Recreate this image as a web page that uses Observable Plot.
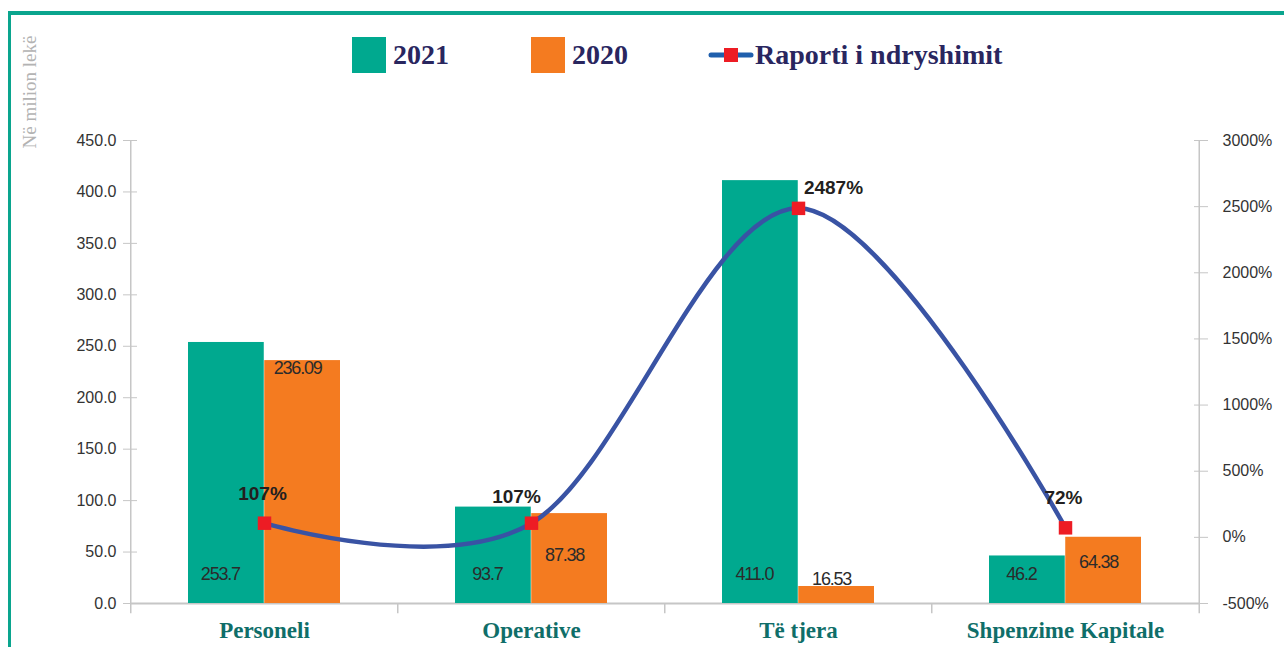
<!DOCTYPE html>
<html><head><meta charset="utf-8">
<script src="https://cdn.jsdelivr.net/npm/d3@7"></script>
<script src="https://cdn.jsdelivr.net/npm/@observablehq/plot@0.6"></script>
<style>
html,body{margin:0;padding:0;background:#fff;width:1284px;height:647px;overflow:hidden;position:relative;}
#frame{position:absolute;left:8px;top:11px;right:-10px;bottom:-10px;border-top:4px solid #0aa58e;border-left:3px solid #0aa58e;}
#chart{position:absolute;left:0;top:0;}
.legend-item{position:absolute;top:37px;height:36px;display:flex;align-items:center;font-family:"Liberation Serif",serif;font-weight:bold;font-size:28px;color:#29265f;white-space:nowrap;}
.sw{width:34px;height:36px;margin-right:7px;}
#ytitle{position:absolute;left:30px;top:92px;transform:translate(-50%,-50%) rotate(-90deg);font-family:"Liberation Serif",serif;font-size:19px;color:#b3b3b3;white-space:nowrap;}
.numlab{letter-spacing:-1.2px;}
</style></head><body>
<div id="frame"></div>
<div id="chart"></div>
<div id="ytitle">Në milion lekë</div>
<div id="legend"></div>
<script>
// ---- data ----
const categories = ["Personeli", "Operative", "Të tjera", "Shpenzime Kapitale"];
const values2021 = [253.7, 93.7, 411.0, 46.2];
const values2020 = [236.09, 87.38, 16.53, 64.38];
const ratioPct = [107, 107, 2487, 72];
const labels2021 = ["253.7", "93.7", "411.0", "46.2"];
const labels2020 = ["236.09", "87.38", "16.53", "64.38"];
const ratioLabels = ["107%", "107%", "2487%", "72%"];
const leftTicks = [0, 50, 100, 150, 200, 250, 300, 350, 400, 450];
const rightTicks = [-500, 0, 500, 1000, 1500, 2000, 2500, 3000];
const seriesNames = ["2021", "2020", "Raporti i ndryshimit"];

// ---- styles ----
const GREEN = "#00a98f", ORANGE = "#f47b20", BLUE = "#3953a4", RED = "#ed1c24";
const yMax = 450, rMin = -500, rMax = 3000;
const toLeft = r => (r - rMin) * yMax / (rMax - rMin);
const fromLeft = v => v * (rMax - rMin) / yMax + rMin;

const rows = categories.map((c, i) => ({
  cat: c, v21: values2021[i], v20: values2020[i], r: ratioPct[i],
  l21: labels2021[i], l20: labels2020[i], lr: ratioLabels[i]
}));

const W = 1284, H = 647, mL = 130, mR = 84, mT = 140, mB = 44;
const step = (W - mL - mR) / categories.length;
const bw = step * 0.57;
const half = bw / 2;

const orangeDy = {"Personeli": 8, "Operative": 42, "Të tjera": -7, "Shpenzime Kapitale": 25};
const ratioOff = {"Personeli": [-2, -29], "Operative": [-15, -26], "Të tjera": [35, -20], "Shpenzime Kapitale": [-2, -30]};

const axisFont = '"Liberation Sans",Arial,sans-serif';
const axisCol = "#c6c6c6";

const marks = [
  Plot.ruleY([0], {stroke: axisCol, strokeWidth: 2}),
  Plot.ruleX([categories[0]], {x: d => d, dx: -step / 2, y1: -10, y2: yMax, stroke: axisCol, strokeWidth: 1.5}),
  Plot.ruleX([categories[categories.length - 1]], {x: d => d, dx: step / 2, y1: -10, y2: yMax, stroke: axisCol, strokeWidth: 1.5}),
  Plot.ruleX(categories.slice(1), {x: d => d, dx: -step / 2, y1: -10, y2: 0, stroke: axisCol, strokeWidth: 1.5}),
  Plot.barY(rows, {x: "cat", y: "v21", fill: GREEN, insetRight: half}),
  Plot.barY(rows, {x: "cat", y: "v20", fill: ORANGE, insetLeft: half}),
  Plot.axisY({ticks: leftTicks, tickFormat: d => d.toFixed(1), tickSize: 14, dx: 7, tickPadding: 7,
    stroke: axisCol, fill: "#333", fontSize: 16, fontFamily: axisFont, label: null}),
  Plot.axisY({anchor: "right", ticks: rightTicks.map(toLeft), tickFormat: v => Math.round(fromLeft(v)) + "%",
    tickSize: 14, dx: -7, tickPadding: 15, stroke: axisCol, fill: "#333", fontSize: 16, fontFamily: axisFont, label: null}),
  Plot.axisX({tickSize: 0, tickPadding: 18, fontSize: 23, fontWeight: "bold",
    fontFamily: '"Liberation Serif",serif', fill: "#0f6e69", label: null}),
  Plot.text(rows, {x: "cat", frameAnchor: "bottom", text: "l21", dx: -half / 2 - 6, dy: -24,
    fontSize: 18, fontFamily: axisFont, fill: "#2b2b2b", className: "numlab"}),
  ...categories.map(c => Plot.text(rows.filter(d => d.cat === c), {x: "cat", y: "v20", text: "l20",
    dx: half / 2 - 5, dy: orangeDy[c], fontSize: 18, fontFamily: axisFont, fill: "#2b2b2b", className: "numlab"})),
  Plot.line(rows, {x: "cat", y: d => toLeft(d.r), curve: "cardinal", stroke: BLUE, strokeWidth: 4.5}),
  Plot.dot(rows, {x: "cat", y: d => toLeft(d.r), symbol: "square", r: 7.6, fill: RED, stroke: null}),
  ...categories.map(c => Plot.text(rows.filter(d => d.cat === c), {x: "cat", y: d => toLeft(d.r), text: "lr",
    dx: ratioOff[c][0], dy: ratioOff[c][1], fontSize: 19, fontWeight: "bold", fontFamily: axisFont, fill: "#231f20"}))
];

const chart = Plot.plot({
  width: W, height: H,
  marginLeft: mL, marginRight: mR, marginTop: mT, marginBottom: mB,
  style: {background: "transparent", fontFamily: axisFont, overflow: "visible"},
  x: {type: "band", domain: categories, paddingInner: 0.43, paddingOuter: 0.215},
  y: {domain: [0, yMax]},
  marks
});
document.getElementById("chart").appendChild(chart);

// ---- legend (HTML) ----
const legend = document.getElementById("legend");
const legendLeft = [352, 531, 708];
seriesNames.forEach((name, i) => {
  const item = document.createElement("div");
  item.className = "legend-item";
  item.style.left = legendLeft[i] + "px";
  if (i < 2) {
    const sw = document.createElement("div");
    sw.className = "sw";
    sw.style.background = i === 0 ? GREEN : ORANGE;
    item.appendChild(sw);
  } else {
    const ns = "http://www.w3.org/2000/svg";
    const s = document.createElementNS(ns, "svg");
    s.setAttribute("width", 46); s.setAttribute("height", 16);
    s.style.marginRight = "1px";
    s.innerHTML = `<line x1="3" y1="8" x2="43" y2="8" stroke="#1f5fad" stroke-width="5" stroke-linecap="round"/>
      <rect x="16" y="1" width="14" height="14" fill="${RED}"/>`;
    item.appendChild(s);
  }
  item.appendChild(document.createTextNode(name));
  legend.appendChild(item);
});
</script>
</body></html>
